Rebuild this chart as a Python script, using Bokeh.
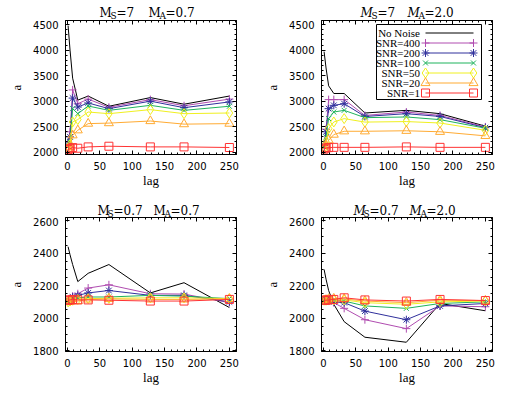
from bokeh.plotting import figure
from bokeh.models import Range1d, FixedTicker, LinearAxis
from bokeh.layouts import gridplot
from bokeh.core.properties import value
from bokeh.embed import file_html
from bokeh.resources import INLINE

# ---------------- data ----------------
lags = [1, 4, 8, 16, 32, 64, 128, 180, 250]
series_names = ["No Noise", "SNR=400", "SNR=200", "SNR=100", "SNR=50", "SNR=20", "SNR=1"]

x_ticks = [0, 50, 100, 150, 200, 250]
top_y_ticks = [2000, 2500, 3000, 3500, 4000, 4500]
bottom_y_ticks = [1800, 2000, 2200, 2400, 2600]

# M_S=7, M_A=0.7
p1_no_noise = [4480, 4000, 3450, 3020, 3100, 2900, 3070, 2940, 3100]
p1_snr400 = [2200, 2400, 3220, 2950, 3040, 2880, 3030, 2910, 3040]
p1_snr200 = [2180, 2300, 3060, 2885, 2965, 2853, 3000, 2872, 2985]
p1_snr100 = [2120, 2200, 2853, 2755, 2905, 2820, 2918, 2820, 2900]
p1_snr50 = [2080, 2150, 2592, 2640, 2787, 2755, 2834, 2755, 2768]
p1_snr20 = [2060, 2100, 2332, 2430, 2560, 2570, 2611, 2550, 2560]
p1_snr1 = [2050, 2070, 2090, 2078, 2104, 2117, 2104, 2104, 2092]

# M_S=7, M_A=2.0
p2_no_noise = [3970, 3650, 3300, 3150, 3150, 2768, 2820, 2755, 2510]
p2_snr400 = [2150, 2450, 3030, 3030, 3030, 2720, 2787, 2720, 2495]
p2_snr200 = [2130, 2400, 2853, 2918, 2950, 2700, 2755, 2700, 2480]
p2_snr100 = [2100, 2300, 2658, 2787, 2820, 2677, 2690, 2638, 2470]
p2_snr50 = [2080, 2200, 2462, 2592, 2658, 2590, 2600, 2572, 2430]
p2_snr20 = [2070, 2130, 2234, 2345, 2410, 2410, 2420, 2400, 2320]
p2_snr1 = [2060, 2080, 2090, 2095, 2095, 2095, 2104, 2095, 2095]

# M_S=0.7, M_A=0.7
p3_no_noise = [2440, 2390, 2330, 2225, 2276, 2330, 2155, 2218, 2065]
p3_snr400 = [2110, 2120, 2135, 2150, 2185, 2205, 2150, 2148, 2095]
p3_snr200 = [2105, 2115, 2130, 2140, 2155, 2170, 2140, 2140, 2100]
p3_snr100 = [2105, 2110, 2120, 2125, 2130, 2130, 2140, 2135, 2120]
p3_snr50 = [2100, 2105, 2110, 2115, 2120, 2122, 2125, 2125, 2120]
p3_snr20 = [2100, 2102, 2105, 2105, 2115, 2118, 2115, 2115, 2118]
p3_snr1 = [2110, 2112, 2115, 2112, 2112, 2110, 2105, 2105, 2115]

# M_S=0.7, M_A=2.0
p4_no_noise = [2300, 2240, 2170, 2085, 1978, 1882, 1851, 2090, 2045]
p4_snr400 = [2110, 2108, 2105, 2095, 2060, 1990, 1935, 2075, 2070]
p4_snr200 = [2110, 2110, 2108, 2100, 2095, 2043, 1990, 2075, 2090]
p4_snr100 = [2110, 2110, 2110, 2108, 2105, 2075, 2060, 2090, 2100]
p4_snr50 = [2110, 2110, 2112, 2112, 2112, 2095, 2085, 2100, 2105]
p4_snr20 = [2110, 2112, 2118, 2120, 2118, 2105, 2095, 2110, 2108]
p4_snr1 = [2110, 2110, 2112, 2115, 2125, 2112, 2105, 2115, 2108]

# panel titles: (main text pieces, subscript pieces)
t1_main = ["M", "=7", "M", "=0.7"]
t1_sub = ["S", "A"]
t2_main = ["M", "=7", "M", "=2.0"]
t2_sub = ["S", "A"]
t3_main = ["M", "=0.7", "M", "=0.7"]
t3_sub = ["S", "A"]
t4_main = ["M", "=0.7", "M", "=2.0"]
t4_sub = ["S", "A"]

# ---------------- styles ----------------
series_colors = ["black", "#b04cb0", "#30309c", "#1fb35c", "#f0f020", "#ffab33", "#ff3333"]
series_markers = [None, "cross", "asterisk", "x", "diamond", "triangle", "square"]
marker_sizes = [0, 8, 8, 7, 10, 9, 8]

TICK_FONT = "DejaVu Sans"
LABEL_FONT = "Liberation Serif"
TITLE_FONT = "DejaVu Serif"
W = 256
FRAME_W = 171
BORDER_L = 65
BORDER_R = 20


def style_axis(ax, show_labels):
    ax.axis_line_color = "black"
    ax.major_tick_in = 4
    ax.major_tick_out = 0
    ax.minor_tick_in = 2
    ax.minor_tick_out = 0
    ax.major_tick_line_color = "black"
    ax.minor_tick_line_color = "black"
    if show_labels:
        ax.major_label_text_font = TICK_FONT
        ax.major_label_text_font_size = "10px"
        ax.major_label_text_color = "black"
        ax.major_label_standoff = 7
        ax.axis_label_text_font = LABEL_FONT
        ax.axis_label_text_font_size = "13px"
        ax.axis_label_text_font_style = "normal"
        ax.axis_label_text_color = "black"
    else:
        ax.major_label_text_font_size = "0px"
        ax.major_label_text_color = None
        ax.major_label_standoff = 0


def make_title(height, main_x, main_y, sub_x, sub_y, main_text, sub_text, italic):
    # x positions are measured in pixels from the left edge of the panel frame below
    t = figure(width=W, height=height, x_range=Range1d(0, FRAME_W), y_range=Range1d(0, height),
               output_backend="svg", toolbar_location=None, title=None,
               min_border_left=BORDER_L, min_border_right=BORDER_R,
               min_border_top=0, min_border_bottom=0,
               x_axis_location=None, y_axis_location=None)
    t.grid.visible = False
    t.outline_line_color = None
    t.background_fill_color = None
    t.border_fill_color = "white"
    styles = ["italic" if (italic and s == "M") else "normal" for s in main_text]
    t.text(x=main_x, y=[main_y] * len(main_text), text=main_text, text_font=value(TITLE_FONT),
           text_font_size="12px", text_font_style=styles, text_color="black",
           text_align="left", text_baseline="alphabetic")
    t.text(x=sub_x, y=[sub_y] * len(sub_text), text=sub_text, text_font=value(TITLE_FONT),
           text_font_size="9px", text_color="black", text_align="left", text_baseline="alphabetic")
    return t


def make_panel(height, border_bottom, yr, yticks, yminor, data):
    p = figure(width=W, height=height, x_range=Range1d(-3, 261), y_range=Range1d(*yr),
               output_backend="svg", toolbar_location=None, title=None,
               min_border_left=BORDER_L, min_border_right=BORDER_R,
               min_border_top=0, min_border_bottom=border_bottom,
               x_axis_label="lag", y_axis_label="a")
    p.xgrid.visible = False
    p.ygrid.visible = False
    p.outline_line_color = "black"
    p.background_fill_color = "white"
    p.border_fill_color = "white"

    p.xaxis[0].ticker = FixedTicker(ticks=x_ticks, minor_ticks=list(range(10, 261, 10)))
    p.yaxis[0].ticker = FixedTicker(ticks=yticks, minor_ticks=yminor)
    p.xaxis[0].axis_label_standoff = 0
    p.yaxis[0].axis_label_standoff = 6
    style_axis(p.xaxis[0], True)
    style_axis(p.yaxis[0], True)

    top = LinearAxis(ticker=FixedTicker(ticks=x_ticks, minor_ticks=list(range(10, 261, 10))))
    right = LinearAxis(ticker=FixedTicker(ticks=yticks, minor_ticks=yminor))
    style_axis(top, False)
    style_axis(right, False)
    p.add_layout(top, "above")
    p.add_layout(right, "right")

    for vals, color, marker, ms in zip(data, series_colors, series_markers, marker_sizes):
        p.line(lags, vals, line_color=color, line_width=1)
        if marker:
            p.scatter(lags, vals, marker=marker, size=ms, line_color=color,
                      fill_color=None, line_width=1)
    return p


y_top_minor = list(range(2000, 4580, 100))
y_bot_minor = list(range(1800, 2621, 50))

t1 = make_title(20, [34, 51, 83, 100], 8, [45, 94], 5, t1_main, t1_sub, False)
t2 = make_title(20, [39, 56, 86, 103], 8, [50, 97], 5, t2_main, t2_sub, True)
t3 = make_title(20, [32, 48, 88, 105], 7, [42, 99], 4, t3_main, t3_sub, False)
t4 = make_title(20, [32, 48, 88, 105], 7, [42, 99], 4, t4_main, t4_sub, True)

p1 = make_panel(177, 43, (1955, 4580), top_y_ticks, y_top_minor,
                [p1_no_noise, p1_snr400, p1_snr200, p1_snr100, p1_snr50, p1_snr20, p1_snr1])
p2 = make_panel(177, 43, (1955, 4580), top_y_ticks, y_top_minor,
                [p2_no_noise, p2_snr400, p2_snr200, p2_snr100, p2_snr50, p2_snr20, p2_snr1])
p3 = make_panel(176, 42, (1794, 2620), bottom_y_ticks, y_bot_minor,
                [p3_no_noise, p3_snr400, p3_snr200, p3_snr100, p3_snr50, p3_snr20, p3_snr1])
p4 = make_panel(176, 42, (1794, 2620), bottom_y_ticks, y_bot_minor,
                [p4_no_noise, p4_snr400, p4_snr200, p4_snr100, p4_snr50, p4_snr20, p4_snr1])

# ---------------- legend (panel 2), drawn in frame-pixel coordinates ----------------
p2.extra_x_ranges = {"px": Range1d(0, FRAME_W)}
p2.extra_y_ranges = {"py": Range1d(0, 134)}
p2.quad(left=[55], right=[160], bottom=[55], top=[130], fill_color="white",
        line_color="black", line_width=1, x_range_name="px", y_range_name="py")
rows_y = [121.5 - 10 * i for i in range(len(series_names))]
p2.text(x=[98.5] * len(series_names), y=rows_y, text=series_names, text_align="right",
        text_baseline="middle", text_font=value(LABEL_FONT), text_font_size="11px",
        text_color="black", x_range_name="px", y_range_name="py")
for ry, color, marker, ms in zip(rows_y, series_colors, series_markers, marker_sizes):
    p2.line([104, 152], [ry, ry], line_color=color, line_width=1, x_range_name="px", y_range_name="py")
    if marker:
        p2.scatter([104, 152], [ry, ry], marker=marker, size=ms, line_color=color, fill_color=None,
                   line_width=1, x_range_name="px", y_range_name="py")

grid = gridplot([[t1, t2], [p1, p2], [t3, t4], [p3, p4]], toolbar_location=None)

open("out.html", "w").write(file_html(grid, INLINE))
